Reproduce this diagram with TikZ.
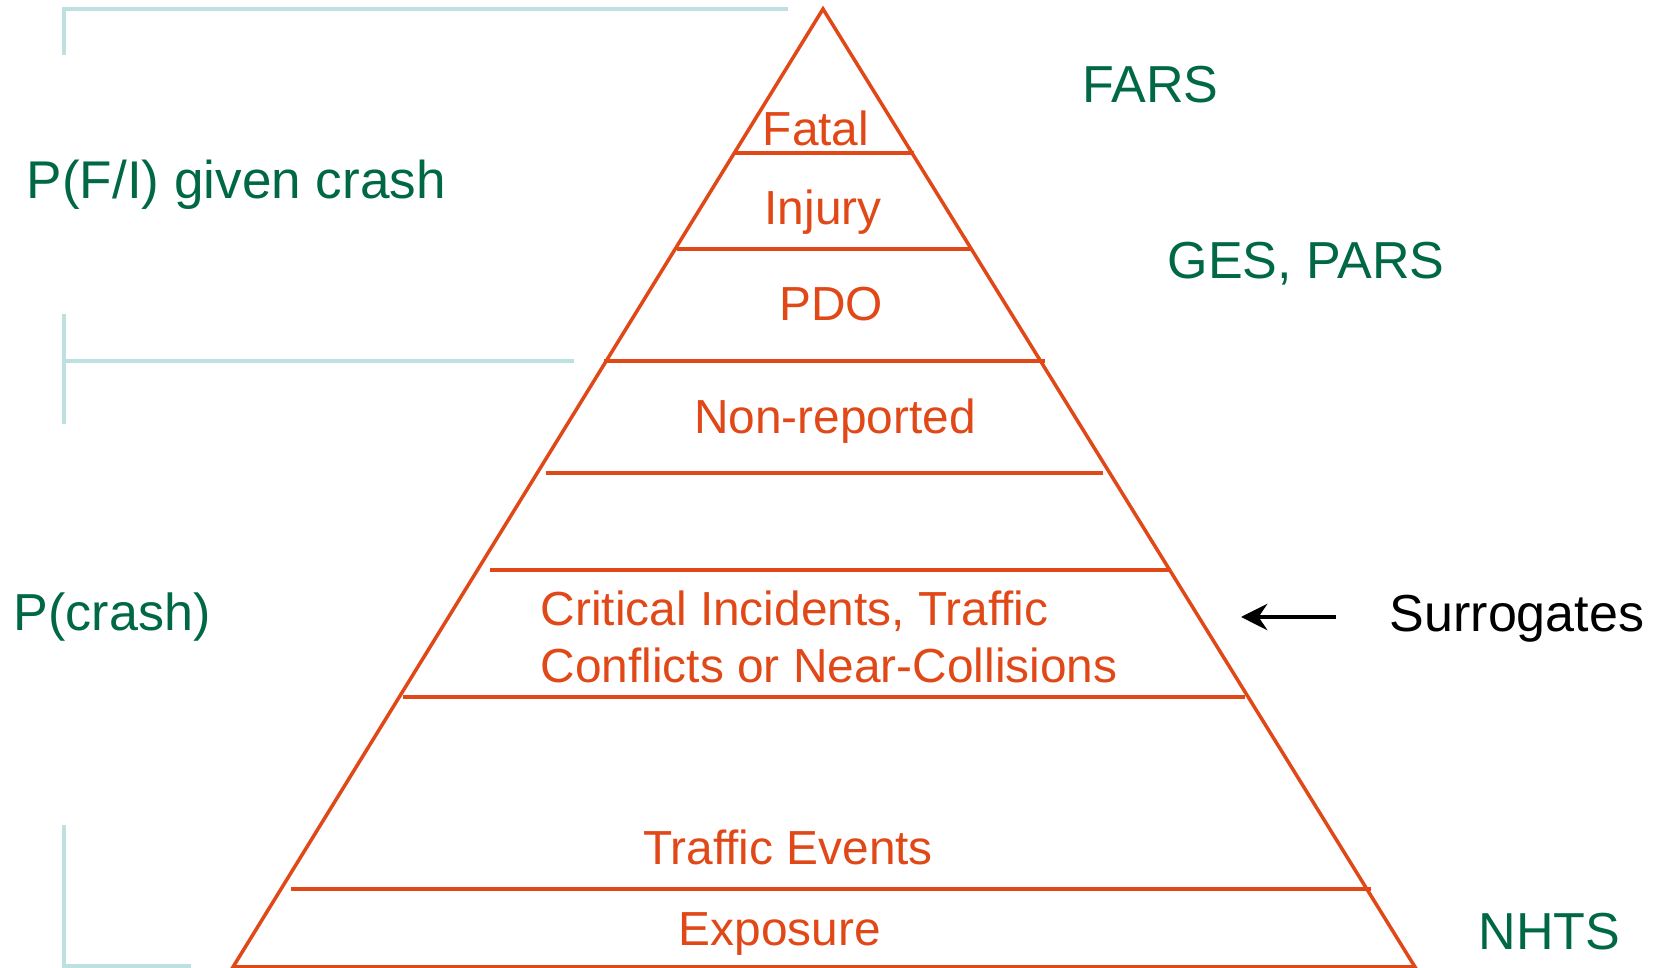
\documentclass[tikz,border=0pt]{standalone}
\usepackage{fontspec}
\setmainfont{Liberation Sans}
\usetikzlibrary{arrows.meta}
\definecolor{rojizo}{RGB}{224,72,24}
\definecolor{verdoso}{RGB}{0,104,68}
\definecolor{celeste}{RGB}{189,225,227}

\begin{document}
\begin{tikzpicture}[x=0.01cm,y=-0.01cm, % 1 unidad = 1 pixel
  borde/.style={draw=rojizo, line width=1pt, line join=miter},
  franja/.style={draw=rojizo, line width=1.1pt},
  corchete/.style={draw=celeste, line width=1.1pt},
  rojo/.style={text=rojizo, inner sep=0pt, anchor=base, font=\fontsize{13.6}{16}\selectfont},
  verde/.style={text=verdoso, inner sep=0pt, anchor=base west, font=\fontsize{14.8}{17}\selectfont},
  negro/.style={text=black, inner sep=0pt, anchor=base west, font=\fontsize{14.8}{17}\selectfont}]
\useasboundingbox (0,0) rectangle (1663,968);
% Triangulo
\draw[borde] (823,9) -- (233,967) -- (1415,967) -- cycle;
% Franjas horizontales
\draw[franja] (734,153) -- (914,153);
\draw[franja] (677,249) -- (972,249);
\draw[franja] (604,361) -- (1045,361);
\draw[franja] (546,473) -- (1103,473);
\draw[franja] (490,570) -- (1171,570);
\draw[franja] (403,697) -- (1245,697);
\draw[franja] (291,889) -- (1371,889);
% Textos dentro de la piramide
\node[rojo] (fatal) at (816,146) {Fatal};
\node[rojo] (lesion) at (823,225) {Injury};
\node[rojo] (pdo) at (831,321) {PDO};
\node[rojo] (noreport) at (835,434) {Non-reported};
\node[rojo, anchor=base west] (critico) at (540,626) {Critical Incidents, Traffic};
\node[rojo, anchor=base west] (conflicto) at (540,683) {Conflicts or Near-Collisions};
\node[rojo] (eventos) at (788,865) {Traffic Events};
\node[rojo] (exposicion) at (780,946) {Exposure};
% Fuentes de datos (derecha)
\node[verde] (fars) at (1082,103) {FARS};
\node[verde] (ges) at (1167,279) {GES, PARS};
\node[verde] (nhts) at (1478,950) {NHTS};
\node[negro] (surr) at (1389,632) {Surrogates};
% Flecha hacia la franja de sustitutos
\coordinate (desde) at (1336,617);
\coordinate (hasta) at (1241,617);
\draw[line width=1pt, -{Stealth[length=7.5pt, width=7.5pt, inset=2.5pt]}] (desde) -- (hasta);
% Corchetes y probabilidades (izquierda)
\draw[corchete] (64,55) -- (64,9) -- (788,9);
\draw[corchete] (64,314) -- (64,424);
\draw[corchete] (64,361) -- (574,361);
\draw[corchete] (64,825) -- (64,966) -- (191,966);
\node[verde, font=\fontsize{15.1}{17}\selectfont] (pfi) at (26,199) {P(F/I) given crash};
\node[verde] (pcrash) at (13,631) {P(crash)};
\end{tikzpicture}
\end{document}
